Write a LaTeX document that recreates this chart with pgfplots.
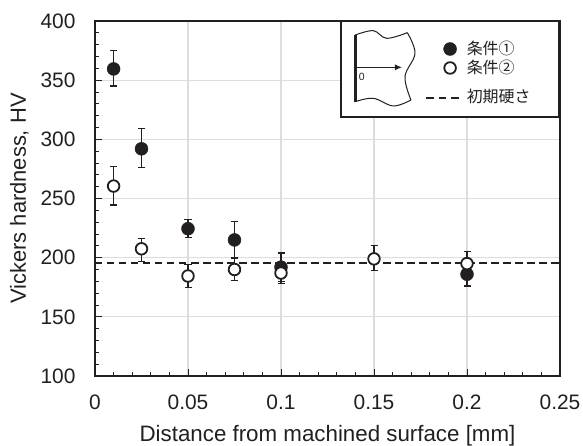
\documentclass[border=0pt]{standalone}
\usepackage{fontspec}
\usepackage{pgfplots}
\usetikzlibrary{arrows.meta}
\pgfplotsset{compat=1.18}
\setmainfont{Liberation Sans}
\newfontfamily\cjk{Noto Sans CJK JP}
\definecolor{ink}{HTML}{231F20}
\definecolor{gridc}{HTML}{DDDDDD}
\begin{document}
\begin{tikzpicture}
\path[use as bounding box] (-95bp,-70bp) rectangle (488bp,376bp);
\begin{axis}[
  at={(0,0)}, anchor=south west,
  scale only axis, width=465bp, height=355bp,
  xmin=0, xmax=0.25, ymin=100, ymax=400,
  xtick={0,0.05,0.1,0.15,0.2,0.25},
  xticklabels={0,0.05,0.1,0.15,0.2,0.25},
  ytick={100,150,200,250,300,350,400},
  minor x tick num=4, minor y tick num=4,
  grid=major, major grid style={gridc,line width=1.2bp},
  tick align=inside, major tick length=7bp, minor tick length=4bp,
  tick style={ink,line width=1bp},
  xtick pos=bottom, ytick pos=left,
  axis line style={ink,line width=1.8bp},
  /pgf/number format/assume math mode=true,
  tick label style={font=\fontsize{21}{23}\selectfont,text=ink},
  xticklabel style={yshift=-15bp},
  yticklabel style={xshift=-16bp},
  xlabel={Distance from machined surface [mm]},
  ylabel={Vickers hardness, HV},
  xlabel style={font=\fontsize{22.4}{24}\selectfont,text=ink,at={(0.5,0)},anchor=base,yshift=-65.5bp},
  ylabel style={font=\fontsize{22}{24}\selectfont,text=ink,at={(0,0.5)},anchor=base,yshift=69bp},
  clip=false,
  legend style={at={(0.7102,0.947)},anchor=north west,draw=none,fill=none,
    font=\fontsize{16}{18}\selectfont\cjk,text=ink,row sep=1bp,
    inner sep=0bp,nodes={inner sep=1.5bp}},
  legend cell align=left,
]
\draw[fill=white,draw=ink,line width=2bp] (axis cs:0.1323,319) rectangle (axis cs:0.2495,400);

\addplot[forget plot,ink,line width=1.2bp,dash pattern=on 7.5bp off 4.5bp] coordinates {(0,195.5) (0.25,195.5)};

\addplot[only marks,mark=*,mark size=6.5bp,ink,mark options={fill=ink,draw=ink},
  legend image code/.code={\fill[ink] (24bp,0) circle (6.5bp);\path (39bp,0);},
  error bars/.cd,y dir=both,y explicit,
  error bar style={ink,line width=1.2bp},
  error mark options={ink,rotate=90,mark size=3.5bp,line width=1.2bp},
] table[x=x,y=y,y error plus=p,y error minus=m] {
x y p m
0.01 359.5 15.5 14.5
0.025 292 17 16
0.05 224.5 8 7.5
0.075 215 15.5 15
0.1 192 12 12
0.2 186 10 10
};
\addlegendentry{条件①}

\addplot[only marks,mark=*,mark size=5.8bp,ink,mark options={fill=white,draw=ink,line width=1.8bp},
  legend image code/.code={\draw[ink,fill=white,line width=1.8bp] (24bp,0) circle (5.8bp);\path (39bp,0);},
  error bars/.cd,y dir=both,y explicit,
  error bar style={ink,line width=1.2bp},
  error mark options={ink,rotate=90,mark size=3.5bp,line width=1.2bp},
] table[x=x,y=y,y error plus=p,y error minus=m] {
x y p m
0.01 260.5 16.5 16
0.025 207.5 9 10.5
0.05 184.5 9.5 9.5
0.075 190 9 9
0.1 187 8 9
0.15 199 11 10
0.2 195 10 10
};
\addlegendentry{条件②}

\addlegendimage{legend image code/.code={\draw[ink,line width=1.3bp,dash pattern=on 7.5bp off 5bp] (0,-6bp) -- (33bp,-6bp);\path (39bp,6bp);}}
\addlegendentry{\rule{0pt}{23.5bp}初期硬さ}
\end{axis}
% specimen sketch in the legend box (zoomed crop pixels)
\begin{scope}[shift={(235bp,366bp)},x=0.3333bp,y=-0.3333bp]
  \draw[ink,line width=1bp] plot[smooth,tension=0.6] coordinates {(76,75) (130,62) (170,85) (232,68)};
  \draw[ink,line width=1bp] plot[smooth,tension=0.6] coordinates {(232,68) (255,130) (225,200) (243,270)};
  \draw[ink,line width=1bp] plot[smooth,tension=0.6] coordinates {(243,270) (190,288) (130,265) (76,275)};
  \draw[ink,line width=3.6bp] (76,75) -- (76,276);
  \draw[ink,line width=1bp,-{Latex[length=7bp,width=6bp]}] (78,172) -- (216,172);
  \node[text=ink,font=\fontsize{10.5}{11}\selectfont] at (95,201) {0};
\end{scope}
\end{tikzpicture}
\end{document}
